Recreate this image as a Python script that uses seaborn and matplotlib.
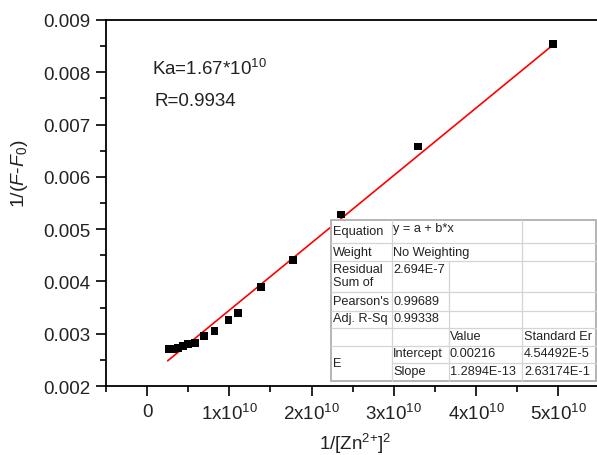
import matplotlib
matplotlib.use("Agg")
import matplotlib.pyplot as plt
import seaborn as sns
import numpy as np
import pandas as pd
from matplotlib.ticker import MultipleLocator, FuncFormatter
from matplotlib.lines import Line2D
from matplotlib.patches import Rectangle

# ---------------- data ----------------
x_vals = [0.26e10, 0.32e10, 0.38e10, 0.44e10, 0.50e10, 0.58e10, 0.69e10, 0.82e10,
          0.99e10, 1.10e10, 1.38e10, 1.77e10, 2.36e10, 3.29e10, 4.93e10]
y_vals = [0.00271, 0.00271, 0.00273, 0.00277, 0.00281, 0.00282, 0.00296, 0.00305,
          0.00326, 0.00340, 0.00390, 0.00441, 0.00528, 0.00658, 0.00854]
intercept = 0.00216
slope = 1.2894e-13

ka_text = "Ka=1.67*10$^{10}$"
r_text = "R=0.9934"

table_rows = [
    ["Equation", "y = a + b*x", "", ""],
    ["Weight", "No Weighting", "", ""],
    ["Residual\nSum of", "2.694E-7", "", ""],
    ["Pearson's", "0.99689", "", ""],
    ["Adj. R-Sq", "0.99338", "", ""],
    ["", "", "Value", "Standard Er"],
    ["", "Intercept", "0.00216", "4.54492E-5"],
    ["", "Slope", "1.2894E-13", "2.63174E-1"],
]
merged_label = "E"

# ---------------- style ----------------
sns.set_style("ticks")
plt.rcParams["font.family"] = ["Liberation Sans", "DejaVu Sans"]
plt.rcParams["mathtext.fontset"] = "custom"
plt.rcParams["mathtext.rm"] = "Liberation Sans"
plt.rcParams["mathtext.it"] = "Liberation Sans:italic"
plt.rcParams["mathtext.default"] = "regular"

W, H = 597, 456
fig = plt.figure(figsize=(W / 100, H / 100), dpi=100)
fig.patch.set_facecolor("white")
ax = fig.add_axes([106 / W, 1 - 387 / H, (W - 106) / W, (387 - 21) / H])

df = pd.DataFrame({"x": x_vals, "y": y_vals})
xfit = np.array([min(x_vals) - 0.01e10, max(x_vals)])
fit_df = pd.DataFrame({"x": xfit, "y": intercept + slope * xfit})

sns.lineplot(data=fit_df, x="x", y="y", ax=ax, color="#ff0000", linewidth=1.2, zorder=2)
sns.scatterplot(data=df, x="x", y="y", ax=ax, marker="s", s=32, color="black",
                edgecolor="none", zorder=3)

ax.set_xlim(-0.5e10, 5.47e10)
ax.set_ylim(0.002, 0.009)
ax.xaxis.set_major_locator(MultipleLocator(1e10))
ax.xaxis.set_minor_locator(MultipleLocator(0.5e10))
ax.yaxis.set_major_locator(MultipleLocator(0.001))
ax.yaxis.set_minor_locator(MultipleLocator(0.0005))


def xfmt(v, pos):
    n = int(round(v / 1e10))
    if n == 0:
        return "0"
    return f"{n}x10$^{{10}}$"


ax.xaxis.set_major_formatter(FuncFormatter(xfmt))
ax.yaxis.set_major_formatter(FuncFormatter(lambda v, p: f"{v:.3f}"))

ax.tick_params(axis="both", which="major", direction="out", length=7, width=1.2,
               labelsize=13.5, color="black", labelcolor="#222222")
ax.tick_params(axis="both", which="minor", direction="out", length=4, width=1.2, color="black")
ax.tick_params(axis="x", which="major", pad=5)
ax.tick_params(axis="y", which="major", pad=4)

for s in ["left", "bottom", "top"]:
    ax.spines[s].set_linewidth(1.3)
    ax.spines[s].set_color("black")
ax.spines["right"].set_visible(False)

ax.set_xlabel("1/[Zn$^{2{+}}$]$^{2}$", fontsize=13.5, color="#222222")
ax.set_ylabel("1/($\\mathit{F}$-$\\mathit{F}_{0}$)", fontsize=14, color="#222222")
ax.xaxis.set_label_coords((355 - 106) / (W - 106), -(444 - 387) / (387 - 21))
ax.yaxis.set_label_coords(-(106 - 20) / (W - 106), (387 - 174) / (387 - 21))
ax.xaxis.label.set_verticalalignment("center")
ax.yaxis.label.set_verticalalignment("center")


def fx(px):
    return px / W


def fy(py):
    return 1 - py / H


fig.text(fx(152), fy(75), ka_text, fontsize=13.5, va="baseline", ha="left", color="#222222")
fig.text(fx(155), fy(106), r_text, fontsize=13.5, va="baseline", ha="left", color="#222222")

# ---------------- fit table ----------------
tx0, tx1 = 331, 596
ty0, ty1 = 221, 382
col_x = [331, 392, 449, 522, 596]
row_y = [221, 244.3, 262.3, 293.3, 311.7, 329, 346.7, 364.3, 382]
grid_col = "#d4d4d4"

fig.add_artist(Rectangle((fx(tx0), fy(ty1)), fx(tx1) - fx(tx0), fy(ty0) - fy(ty1),
                         transform=fig.transFigure, facecolor="white",
                         edgecolor="#b4b4b4", linewidth=1.4, zorder=5))


def hline(y, x0, x1):
    fig.add_artist(Line2D([fx(x0), fx(x1)], [fy(y), fy(y)], transform=fig.transFigure,
                          color=grid_col, linewidth=0.9, zorder=6))


def vline(x, y0, y1):
    fig.add_artist(Line2D([fx(x), fx(x)], [fy(y0), fy(y1)], transform=fig.transFigure,
                          color=grid_col, linewidth=0.9, zorder=6))


for i, y in enumerate(row_y[1:-1], start=1):
    if i == 7:
        hline(y, col_x[1], tx1)
    else:
        hline(y, tx0, tx1)
vline(col_x[1], ty0, ty1)
vline(col_x[2], row_y[2], ty1)
vline(col_x[3], ty0, ty1)

text_x = [333, 393, 450, 524]
row_centers = [232.5, 252.7, 270, 301.7, 319, 336.7, 354.3, 372.3]
for r, row in enumerate(table_rows):
    for c, val in enumerate(row):
        if not val:
            continue
        if "\n" in val:
            lines = val.split("\n")
            fig.text(fx(text_x[c]), fy(270), lines[0], fontsize=9.2, ha="left", va="center",
                     color="#222222", zorder=7)
            fig.text(fx(text_x[c]), fy(283.5), lines[1], fontsize=9.2, ha="left", va="center",
                     color="#222222", zorder=7)
        else:
            yc = row_centers[r]
            if r == 0 and c == 1:
                yc = 229.5
            fig.text(fx(text_x[c]), fy(yc), val, fontsize=9.2, ha="left", va="center",
                     color="#222222", zorder=7)
fig.text(fx(text_x[0]), fy(364), merged_label, fontsize=9.2, ha="left", va="center",
         color="#222222", zorder=7)

fig.savefig("out.png", dpi=100, facecolor="white")
